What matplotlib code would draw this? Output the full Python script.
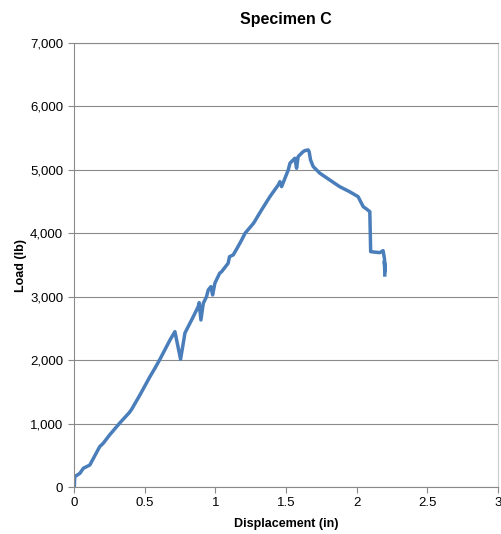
import matplotlib

matplotlib.use("Agg")
import matplotlib.pyplot as plt
from matplotlib.ticker import FuncFormatter

plt.rcParams["font.family"] = ["Liberation Sans", "DejaVu Sans"]

# Specimen C load-displacement record
displacement = [
    0.0, 0.003, 0.04, 0.064, 0.11, 0.18, 0.205, 0.25, 0.324, 0.39, 0.406,
    0.465, 0.536, 0.571, 0.607, 0.678, 0.713, 0.753, 0.772, 0.784, 0.843,
    0.878, 0.885, 0.897, 0.914, 0.937, 0.949, 0.968, 0.98, 0.996, 1.03,
    1.044, 1.09, 1.10, 1.126, 1.16, 1.186, 1.21, 1.27, 1.327, 1.386, 1.445,
    1.457, 1.469, 1.516, 1.528, 1.551, 1.563, 1.575, 1.586, 1.61, 1.622,
    1.634, 1.657, 1.664, 1.674, 1.693, 1.74, 1.81, 1.88, 1.95, 2.011,
    2.047, 2.07, 2.094, 2.10, 2.165, 2.188, 2.198, 2.20, 2.197, 2.20,
    2.202, 2.20,
]
load = [
    0, 170, 224, 302, 354, 643, 696, 827, 1020, 1180, 1230,
    1457, 1745, 1877, 2020, 2323, 2454, 2020, 2270, 2433, 2690,
    2848, 2911, 2638, 2900, 3005, 3110, 3163, 3032, 3216, 3374,
    3399, 3531, 3635, 3662, 3793, 3898, 4004, 4161, 4371, 4580, 4764,
    4816, 4738, 5000, 5106, 5158, 5185, 5027, 5210, 5264, 5289,
    5305, 5316, 5289, 5158, 5053, 4949, 4843, 4738, 4659, 4580,
    4423, 4386, 4344, 3714, 3698, 3730, 3600, 3480, 3560, 3400,
    3470, 3347,
]

x_ticks = [0, 0.5, 1, 1.5, 2, 2.5, 3]
x_labels = ["0", "0.5", "1", "1.5", "2", "2.5", "3"]
y_ticks = [0, 1000, 2000, 3000, 4000, 5000, 6000, 7000]

fig = plt.figure(figsize=(5.02, 5.34), dpi=100)
ax = fig.add_axes([0.148, 0.0871, 0.8434, 0.8324])

ax.plot(displacement, load, color="#4a7ebb", lw=2.5, solid_joinstyle="round")

ax.set_xlim(0, 3)
ax.set_ylim(0, 7000)
ax.set_xticks(x_ticks)
ax.set_xticklabels(x_labels)
ax.set_yticks(y_ticks)
ax.yaxis.set_major_formatter(FuncFormatter(lambda v, _: f"{int(v):,}"))

grid_c = "#8a8a8a"
ax.grid(axis="y", color=grid_c, lw=0.8)
ax.set_axisbelow(True)
for side in ("left", "bottom", "top"):
    ax.spines[side].set_color(grid_c)
    ax.spines[side].set_linewidth(0.8)
ax.spines["right"].set_color("#cccccc")
ax.spines["right"].set_linewidth(0.8)

ax.tick_params(axis="both", direction="out", length=4, width=0.8, color=grid_c,
               labelsize=9.5, labelcolor="black")
ax.tick_params(axis="y", pad=4)
ax.tick_params(axis="x", pad=3)

ax.set_title("Specimen C", fontsize=11.5, fontweight="bold", pad=14)
ax.set_xlabel("Displacement (in)", fontsize=9, fontweight="bold", labelpad=6)
ax.set_ylabel("Load (lb)", fontsize=9, fontweight="bold", labelpad=2)

fig.savefig("out.png", dpi=100)
